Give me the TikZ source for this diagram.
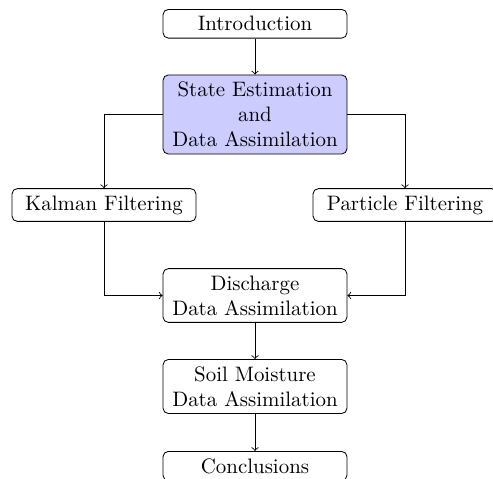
\documentclass[tikz,border=0pt]{standalone}
\usetikzlibrary{positioning}
\begin{document}
\begin{tikzpicture}[x=0.4785pt,y=-0.4785pt,
  box/.style={draw, rounded corners=2.5pt, align=center, minimum width=88pt, line width=0.4pt},
  hl/.style={box, fill=blue!20},
  conn/.style={->, line width=0.4pt}]
\useasboundingbox (0,0) rectangle (493,478);
\node[box] (intro) at (255,23.75) {Introduction};
\node[hl] (state) at (255,114.5) {State Estimation\\and\\Data Assimilation};
\node[box] (kalman) at (104,205) {Kalman Filtering};
\node[box] (particle) at (405,205) {Particle Filtering};
\node[box] (disch) at (255,295.5) {Discharge\\Data Assimilation};
\node[box] (soil) at (255,386.5) {Soil Moisture\\Data Assimilation};
\node[box] (concl) at (255,466) {Conclusions};
\draw[conn] (intro) -- (state);
\draw[conn] (state.west) -| (kalman.north);
\draw[conn] (state.east) -| (particle.north);
\draw[conn] (kalman.south) |- (disch.west);
\draw[conn] (particle.south) |- (disch.east);
\draw[conn] (disch) -- (soil);
\draw[conn] (soil) -- (concl);
\end{tikzpicture}
\end{document}
